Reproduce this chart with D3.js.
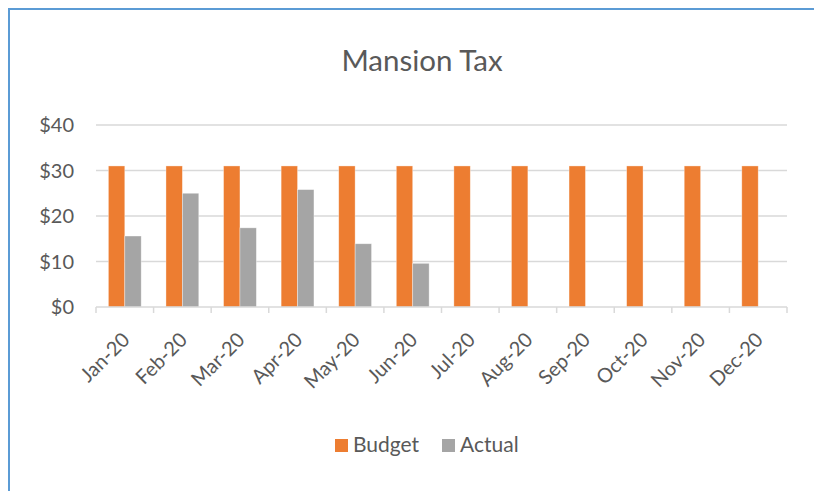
<!DOCTYPE html>
<html><head><meta charset="utf-8">
<script src="https://cdn.jsdelivr.net/npm/d3@7"></script>
<style>body{margin:0;background:#fff;}svg{display:block;font-family:Lato,"Open Sans",sans-serif;}</style>
</head><body>
<svg id="c" width="814" height="491"></svg>
<script>
const categories = ["Jan-20","Feb-20","Mar-20","Apr-20","May-20","Jun-20","Jul-20","Aug-20","Sep-20","Oct-20","Nov-20","Dec-20"];
const budget = [31,31,31,31,31,31,31,31,31,31,31,31];
const actual = [15.6,25.0,17.4,25.8,13.9,9.6,null,null,null,null,null,null];
const seriesNames = ["Budget","Actual"];
const colors = ["#ED7D31","#A5A5A5"];
const yTicks = [0,10,20,30,40];

const svg = d3.select("#c");
// border
svg.append("path").attr("d","M9,491 L9,9 L814,9").attr("fill","none").attr("stroke","#5B9BD5").attr("stroke-width",2);

const m = {left:96, right:787, top:125, bottom:307};
const x = d3.scaleBand().domain(categories).range([m.left,m.right]).paddingInner(0.43).paddingOuter(0.215);
const xc = d3.scaleBand().domain(categories).range([m.left,m.right]);
const y = d3.scaleLinear().domain([0,40]).range([m.bottom,m.top]);
const xs = d3.scaleBand().domain(seriesNames).range([0,x.bandwidth()]);

svg.append("text").attr("x",422).attr("y",71).attr("text-anchor","middle").attr("font-size",29.5).attr("fill","#595959").text("Mansion Tax");

// grid
svg.append("g").selectAll("line").data(yTicks.filter(d=>d>0)).join("line")
  .attr("x1",m.left).attr("x2",m.right).attr("y1",d=>y(d)).attr("y2",d=>y(d))
  .attr("stroke","#D9D9D9").attr("stroke-width",1.5);

// y labels
svg.append("g").selectAll("text").data(yTicks).join("text")
  .attr("x",74).attr("y",d=>y(d)).attr("dy","0.36em").attr("text-anchor","end")
  .attr("font-size",20).attr("fill","#595959").text(d=>"$"+d);

// bars
const data = [budget, actual];
data.forEach((vals,si)=>{
  svg.append("g").selectAll("rect").data(categories.map((c,i)=>({c,v:vals[i]})).filter(d=>d.v!=null)).join("rect")
    .attr("x",d=>x(d.c)+xs(seriesNames[si])).attr("width",xs.bandwidth())
    .attr("y",d=>y(d.v)).attr("height",d=>y(0)-y(d.v)).attr("fill",colors[si])
    .attr("stroke","#fff").attr("stroke-opacity",0.5).attr("stroke-width",0.7);
});

// x axis
const xa = svg.append("g");
xa.append("line").attr("x1",m.left).attr("x2",m.right).attr("y1",m.bottom).attr("y2",m.bottom).attr("stroke","#D9D9D9").attr("stroke-width",1.5);
const tickPos = categories.map(c=>xc(c)).concat([m.right]);
xa.selectAll("line.t").data(tickPos).join("line").attr("class","t")
  .attr("x1",d=>d).attr("x2",d=>d).attr("y1",m.bottom).attr("y2",m.bottom+6)
  .attr("stroke","#D9D9D9").attr("stroke-width",1.5);
xa.selectAll("text").data(categories).join("text")
  .attr("transform",d=>`translate(${xc(d)+xc.bandwidth()/2+1},${m.bottom+29}) rotate(-45)`)
  .attr("text-anchor","end").attr("dy","0.36em").attr("font-size",20).attr("fill","#595959").text(d=>d);

// legend
const lg = svg.append("g");
const legendItems = [{n:"Budget",x:335,c:colors[0]},{n:"Actual",x:442,c:colors[1]}];
legendItems.forEach(it=>{
  lg.append("rect").attr("x",it.x).attr("y",439).attr("width",13).attr("height",13).attr("fill",it.c);
  lg.append("text").attr("x",it.x+18).attr("y",452).attr("font-size",21).attr("fill","#595959").text(it.n);
});
</script>
</body></html>
